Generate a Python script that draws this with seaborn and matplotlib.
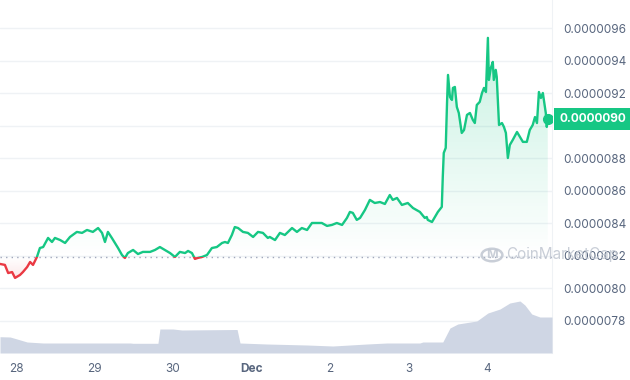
import numpy as np
import matplotlib.pyplot as plt
import matplotlib.transforms as mtransforms
from matplotlib.path import Path
from matplotlib.patches import Rectangle, Circle
import seaborn as sns

# price in units of 1e-6, time in hours since 28 Nov 00:00
hours = [-4.9, -3.4, -2.4, -1.2, -0.3, 1.2, 2.1, 3.4, 4.3, 5.2, 6.4, 7.3, 8.3, 9.8, 11.0,
         11.9, 13.5, 15.0, 16.5, 18.6, 20.2, 21.7, 23.5, 25.1, 26.3, 27.2, 28.1, 29.3, 31.2,
         32.4, 33.3, 34.2, 35.8, 37.3, 38.8, 41.0, 42.5, 44.0, 45.5, 47.1, 48.6, 50.1, 51.7,
         52.6, 53.8, 54.7, 55.6, 56.9, 58.4, 59.9, 61.4, 63.0, 63.9, 64.8, 66.0, 66.9, 67.9,
         69.4, 70.9, 72.5, 74.0, 75.5, 77.0, 77.6, 79.2, 80.7, 82.2, 84.4, 85.9, 87.4, 89.0,
         90.5, 92.0, 93.5, 95.1, 96.6, 98.1, 99.7, 101.2, 102.1, 103.0, 104.2, 105.2, 106.7,
         108.2, 109.7, 111.3, 112.8, 114.3, 115.2, 116.5, 118.0, 119.8, 121.4, 123.5, 125.0,
         125.6, 125.9, 127.2, 128.1, 129.0, 130.2, 130.5, 130.8, 131.4, 131.8, 132.1, 132.7,
         133.3, 133.6, 134.2, 134.8, 135.4, 136.3, 137.0, 137.9, 138.8, 139.7, 140.3, 140.9,
         141.8, 142.5, 143.1, 143.7, 144.3, 144.6, 145.2, 145.8, 146.1, 146.7, 147.0, 147.7,
         148.6, 149.2, 149.8, 150.4, 151.0, 151.9, 153.2, 154.1, 155.0, 156.2, 157.1, 158.0,
         158.7, 159.3, 159.9, 160.5, 161.1, 162.0, 162.3, 162.6]
price = [8.151, 8.145, 8.095, 8.101, 8.065, 8.083, 8.101, 8.132, 8.163, 8.145, 8.194, 8.249,
         8.255, 8.311, 8.286, 8.311, 8.298, 8.280, 8.317, 8.348, 8.342, 8.360, 8.348, 8.372,
         8.342, 8.286, 8.348, 8.311, 8.249, 8.206, 8.188, 8.218, 8.237, 8.212, 8.225, 8.225,
         8.237, 8.255, 8.237, 8.218, 8.194, 8.225, 8.218, 8.231, 8.218, 8.182, 8.188, 8.194,
         8.206, 8.249, 8.255, 8.280, 8.286, 8.280, 8.329, 8.378, 8.372, 8.348, 8.342, 8.317,
         8.348, 8.342, 8.311, 8.317, 8.298, 8.342, 8.329, 8.372, 8.348, 8.372, 8.360, 8.403,
         8.403, 8.403, 8.385, 8.391, 8.403, 8.391, 8.434, 8.471, 8.465, 8.422, 8.434, 8.483,
         8.545, 8.526, 8.532, 8.520, 8.575, 8.545, 8.557, 8.514, 8.526, 8.495, 8.471, 8.434,
         8.440, 8.422, 8.409, 8.440, 8.471, 8.502, 8.686, 8.834, 8.865, 9.142, 9.314, 9.178,
         9.160, 9.234, 9.240, 9.117, 9.080, 8.957, 8.975, 9.068, 9.080, 9.037, 9.018, 9.129,
         9.148, 9.203, 9.234, 9.209, 9.542, 9.283, 9.357, 9.394, 9.283, 9.345, 9.302, 9.006,
         9.018, 8.994, 8.957, 8.803, 8.883, 8.914, 8.963, 8.932, 8.902, 8.902, 8.975, 9.006,
         9.055, 9.018, 9.209, 9.172, 9.203, 9.080, 8.994, 9.043]

# 24h volume (relative units)
vol_hours = [-4.9, -1.8, 0.3, 3.4, 8.3, 34.9, 35.8, 43.4, 44.0, 48.0, 50.7, 67.6, 68.5,
             76.7, 89.0, 96.9, 102.1, 107.3, 113.4, 123.5, 124.4, 130.5, 132.7, 135.1,
             140.9, 144.3, 148.0, 151.0, 154.1, 155.6, 157.7, 160.2, 163.9]
volume = [16.3, 16, 14, 11, 10, 10, 9.7, 9.7, 24, 24, 23, 23.5, 10, 9, 8, 7, 8, 9, 10, 10,
          11, 11, 25, 29, 32, 40, 44, 50, 52, 48, 39, 36, 36]

tick_hours = [0, 24, 48, 72, 96, 120, 144]
tick_labels = ['28', '29', '30', 'Dec', '2', '3', '4']
y_ticks = [7.8, 8.0, 8.2, 8.4, 8.6, 8.8, 9.0, 9.2, 9.4, 9.6]
base_price = 8.194
last_label = '0.0000090'

green = '#16c784'
red = '#ea3943'

sns.set_style('white')
plt.rcParams['font.family'] = ['Inter', 'DejaVu Sans']

fig = plt.figure(figsize=(6.3, 3.8), dpi=100)
pos = [0, 1 - 353 / 380, 552 / 630, 353 / 380]
ax = fig.add_axes(pos)
ax_v = fig.add_axes(pos, zorder=2)
ax_v.patch.set_visible(False)

xlim = (-4.9, 163.9)
ylim = (7.603, 9.775)

# price line, green above the open price, red below
sns.lineplot(x=hours, y=price, color=green, lw=1.7, ax=ax, zorder=4)
sns.lineplot(x=hours, y=price, color=red, lw=1.7, ax=ax, zorder=4)
g_line, r_line = ax.lines[-2], ax.lines[-1]
g_line.set_clip_path(Rectangle((xlim[0], base_price), 200, 5, transform=ax.transData))
r_line.set_clip_path(Rectangle((xlim[0], base_price - 5), 200, 5, transform=ax.transData))

# gradient fills
def gradient_fill(where, color, lo, hi, top_alpha, fade_up):
    poly = ax.fill_between(hours, price, base_price, where=where, interpolate=True,
                           facecolor='none', edgecolor='none')
    paths = poly.get_paths()
    if not paths:
        return
    clip = Path.make_compound_path(*paths)
    a = np.linspace(0, 1, 256)[:, None]
    if not fade_up:
        a = a[::-1]
    img = np.zeros((256, 1, 4))
    img[..., :3] = plt.matplotlib.colors.to_rgb(color)
    img[..., 3] = a * top_alpha
    im = ax.imshow(img, extent=[xlim[0], xlim[1], lo, hi], origin='lower',
                   aspect='auto', zorder=2, interpolation='bilinear')
    im.set_clip_path(clip, transform=ax.transData)

p = np.array(price)
gradient_fill(p >= base_price, green, base_price, max(price), 0.24, True)
gradient_fill(p <= base_price, red, min(price), base_price, 0.12, False)

ax.axhline(base_price, color='#a1a7bb', lw=1, linestyle=(0, (1, 3)), zorder=3)
ax.plot(hours[-1], price[-1], 'o', color=green, ms=7, zorder=5)

ax.set_xlim(*xlim)
ax.set_ylim(*ylim)
ax.set_yticks(y_ticks)
ax.set_yticklabels([f'{v * 1e-6:.7f}' for v in y_ticks])
ax.yaxis.tick_right()
ax.set_xticks(tick_hours)
ax.set_xticklabels(tick_labels)
ax.tick_params(axis='y', length=0, pad=8, labelsize=8.5, labelcolor='#58667e')
ax.tick_params(axis='x', length=0, pad=7, labelsize=8.5, labelcolor='#58667e')
ax.get_xticklabels()[3].set_fontweight('bold')
ax.grid(axis='y', color='#eff2f5', lw=1)
for s in ['top', 'left', 'bottom']:
    ax.spines[s].set_visible(False)
ax.spines['right'].set_color('#eff2f5')

# volume area (bottom band, max about 15% of the plot height)
ax_v.fill_between(vol_hours, volume, color='#cfd6e4', lw=0)
ax_v.set_xlim(*xlim)
ax_v.set_ylim(0, max(volume) * 6.79)
ax_v.axis('off')

# current price tag
trans = mtransforms.blended_transform_factory(fig.transFigure, ax.transData)
ax.text(559 / 630, price[-1], last_label, transform=trans, ha='left', va='center',
        color='white', fontsize=8.5, fontweight='bold', zorder=10, clip_on=False,
        bbox=dict(boxstyle='square,pad=0.45', fc=green, ec='none'))

# watermark
wm = '#c3c9d3'
fig.text(506 / 630, 1 - 255 / 380, 'CoinMarketCap', color=wm, alpha=0.9,
         fontsize=11, ha='left', va='center', zorder=20)
fig.patches.append(Circle((492 / 630, 1 - 255 / 380), 0.0165, transform=fig.transFigure,
                          fill=False, ec=wm, lw=1.8, alpha=0.9))
fig.text(492 / 630, 1 - 255 / 380, 'M', color=wm, alpha=0.9, fontsize=9,
         fontweight='bold', ha='center', va='center', zorder=20)

fig.savefig('out.png', dpi=100)
